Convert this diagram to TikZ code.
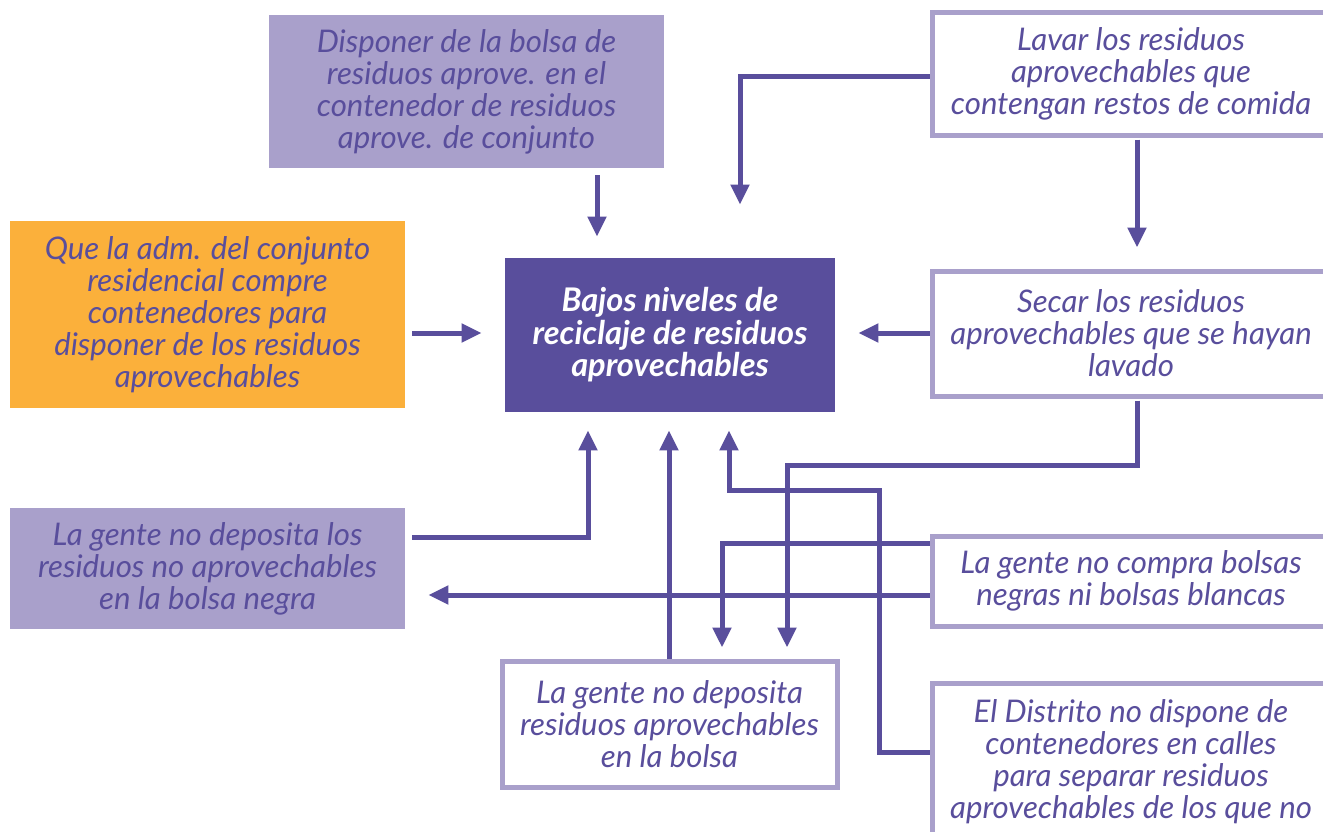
\documentclass[tikz,border=0pt]{standalone}
\usepackage{fontspec}
\setmainfont{Lato}
\usetikzlibrary{arrows.meta,calc}
\definecolor{dpurp}{HTML}{594E9C}
\definecolor{lav}{HTML}{A9A0CB}
\definecolor{orng}{HTML}{FBB03B}
\tikzset{
  base/.style={rectangle, inner sep=0pt, align=center, text=dpurp,
    font=\fontsize{15.6}{16}\selectfont\itshape,
    execute at begin node={\rule{0pt}{19pt}}},
  filledbox/.style={base, fill=lav},
  orangebox/.style={base, fill=orng},
  whitebox/.style={base, fill=white, draw=lav, line width=2.5pt},
  mainbox/.style={base, fill=dpurp, text=white,
    font=\fontsize{16.3}{16.3}\selectfont\bfseries\itshape},
  arr/.style={draw=dpurp, line width=2.5pt,
    -{Triangle[length=10pt,width=9pt]}},
}
\begin{document}
\begin{tikzpicture}[x=0.5pt,y=-0.5pt]
\clip (0,0) rectangle (1323,831);
\fill[white] (0,0) rectangle (1323,831);
\node[filledbox, minimum width=197.5pt, minimum height=76.5pt] (A) at (466.5,91.5)
  {Disponer de la bolsa de\\residuos aprove. en el\\contenedor de residuos\\aprove. de conjunto};
\node[whitebox, minimum width=199pt, minimum height=61.5pt] (B) at (1131,73.5)
  {Lavar los residuos\\aprovechables que\\contengan restos de comida};
\node[orangebox, minimum width=197.5pt, minimum height=93.5pt] (C) at (207.5,314.5)
  {Que la adm. del conjunto\\residencial compre\\contenedores para\\disponer de los residuos\\aprovechables};
\node[mainbox, minimum width=165pt, minimum height=77pt] (D) at (670,335)
  {Bajos niveles de\\reciclaje de residuos\\aprovechables};
\node[whitebox, minimum width=199pt, minimum height=62.5pt] (E) at (1131,333.5)
  {Secar los residuos\\aprovechables que se hayan\\lavado};
\node[filledbox, minimum width=197.5pt, minimum height=60.5pt] (F) at (207.5,568.5)
  {La gente no deposita los\\residuos no aprovechables\\en la bolsa negra};
\node[whitebox, minimum width=199pt, minimum height=45pt] (G) at (1131,581)
  {La gente no compra bolsas\\negras ni bolsas blancas};
\node[whitebox, minimum width=167.5pt, minimum height=63pt] (H) at (669.5,724)
  {La gente no deposita\\residuos aprovechables\\en la bolsa};
\node[whitebox, minimum width=199pt, minimum height=78.5pt] (I) at (1131,761.5)
  {El Distrito no dispone de\\contenedores en calles\\para separar residuos\\aprovechables de los que no};
% connectors
\draw[arr] ($(A.south)+(130.5,7)$) -- ($(D.north)+(-73,-21)$);
\draw[arr] ($(B.west)+(0,2.5)$) -| ($(D.north)+(70,-53)$);
\draw[arr] ($(B.south)+(6,2)$) -- ($(E.north)+(6,-21)$);
\draw[arr] ($(C.east)+(7,18.5)$) -- ($(D.west)+(-23,-2)$);
\draw[arr] ($(E.west)+(0,-0.5)$) -- ($(D.east)+(23,-2)$);
\draw[arr] ($(F.east)+(7,-31.5)$) -| ($(D.south)+(-82,18)$);
\draw[arr] ($(G.west)+(0,14)$) -- ($(F.east)+(23,26.5)$);
\draw[arr] ($(H.north)+(-0.5,0)$) -- ($(D.south)+(-1,18)$);
\draw[arr] ($(E.south)+(6,2)$) -- ++(0,65) -| ($(H.north)+(117.5,-11)$);
\draw[arr] ($(G.west)+(0,-38)$) -| ($(H.north)+(52.5,-11)$);
\draw[arr] ($(I.west)+(0,-9.5)$) -- ++(-50,0) |- ($(D.south)+(59,78)$) -- ($(D.south)+(59,18)$);
\end{tikzpicture}
\end{document}
